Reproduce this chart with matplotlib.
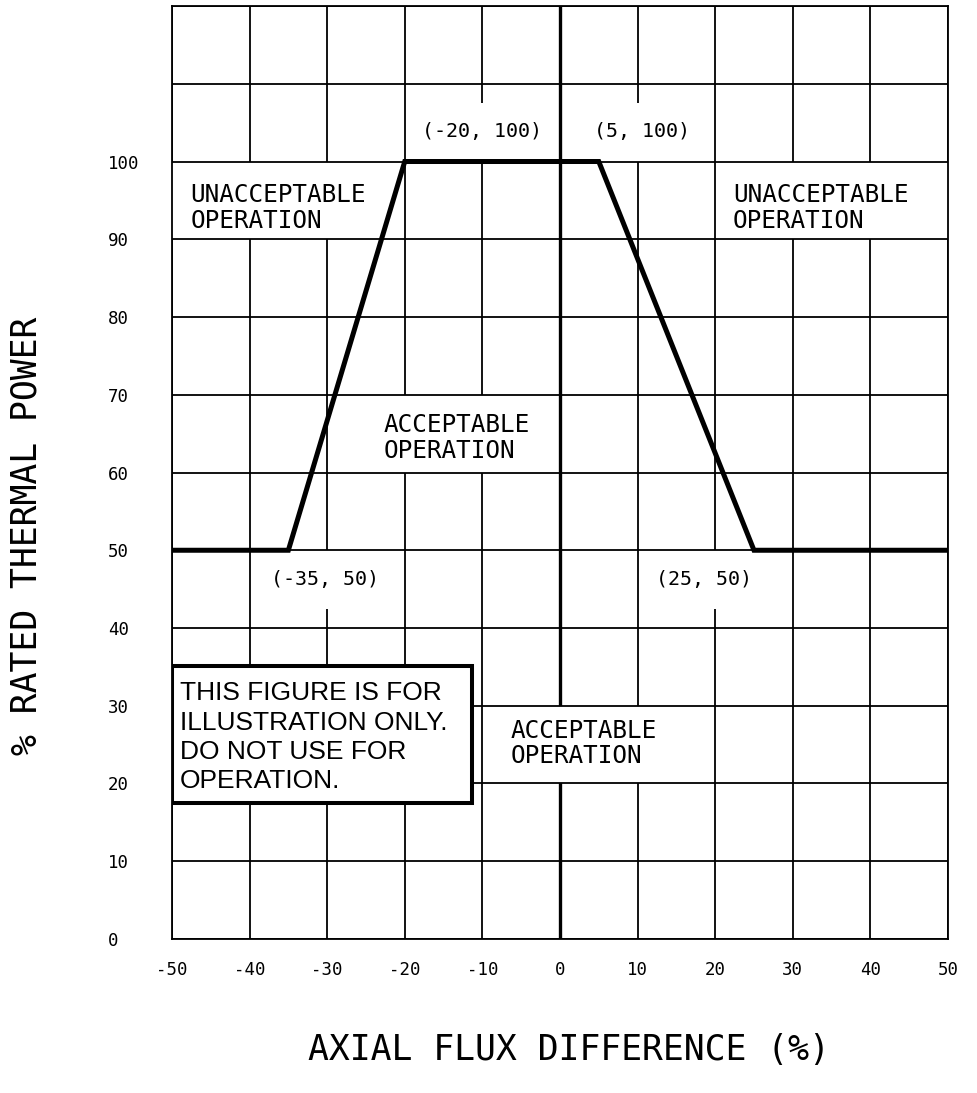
import matplotlib.pyplot as plt
from matplotlib.patches import Rectangle

plt.rcParams['axes.unicode_minus'] = False
plt.rcParams['font.family'] = 'DejaVu Sans Mono'

# limit curve: axial flux difference (%) vs rated thermal power (%)
afd = [-50, -35, -20, 5, 25, 50]
power = [50, 50, 100, 100, 50, 50]

x_ticks = [-50, -40, -30, -20, -10, 0, 10, 20, 30, 40, 50]
y_ticks = [0, 10, 20, 30, 40, 50, 60, 70, 80, 90, 100]
y_grid = [0, 10, 20, 30, 40, 50, 60, 70, 80, 90, 100, 110, 120]

corner_labels = ['(-20, 100)', '(5, 100)', '(-35, 50)', '(25, 50)']
corner_xy = [(-10.0, 103.8), (10.6, 103.8), (-30.3, 46.3), (18.6, 46.3)]

region_labels = ['UNACCEPTABLE\nOPERATION', 'UNACCEPTABLE\nOPERATION',
                 'ACCEPTABLE\nOPERATION', 'ACCEPTABLE\nOPERATION']
# position = left end of the text, baseline of its last line
region_xy = [(-47.6, 91.5), (22.3, 91.5), (-22.7, 61.9), (-6.4, 22.6)]

# white areas behind the labels, the vertical grid lines stop there
masks = [(-50, 90, -21.5, 100), (21, 90, 50, 100), (-24, 60, -0.7, 70),
         (-8.5, 20, 18.5, 30), (-19, 100, -4, 107.5), (4, 100, 17, 107.5),
         (-37, 42.5, -23, 50), (12, 42.5, 25, 50)]

note = 'THIS FIGURE IS FOR\nILLUSTRATION ONLY.\nDO NOT USE FOR\nOPERATION.'

fig = plt.figure(figsize=(9.77, 10.93), dpi=100)
ax = fig.add_axes([0.176, 0.1409, 0.7943, 0.8536])
ax.set_xlim(-50, 50)
ax.set_ylim(0, 120)

for x in x_ticks:
    if x == 0:
        ax.axvline(x, color='black', lw=2.4, zorder=1.2)
    else:
        ax.axvline(x, color='black', lw=1.3, zorder=1)
for y in y_grid:
    ax.axhline(y, color='black', lw=1.3, zorder=2)

for x0, y0, x1, y1 in masks:
    ax.add_patch(Rectangle((x0, y0), x1 - x0, y1 - y0, facecolor='white',
                           edgecolor='none', zorder=1.5))

ax.plot(afd, power, color='black', lw=3.6, zorder=3, solid_joinstyle='miter')

for s in ax.spines.values():
    s.set_linewidth(1.3)

for txt, (x, y) in zip(corner_labels, corner_xy):
    ax.text(x, y, txt, ha='center', va='center', fontsize=14.4, zorder=4)

for txt, (x, y) in zip(region_labels, region_xy):
    ax.text(x, y, txt, ha='left', va='baseline', fontsize=17.6,
            linespacing=1.08, zorder=4)

ax.add_patch(Rectangle((-50, 17.5), 38.7, 17.6, facecolor='white',
                       edgecolor='black', lw=2.9, zorder=4))
ax.text(-49.0, 19.4, note, ha='left', va='baseline', family='Liberation Sans',
        fontsize=19, linespacing=1.28, zorder=5)

ax.set_xticks(x_ticks)
ax.set_yticks(y_ticks)
ax.tick_params(length=0, labelsize=12.5)
ax.tick_params(axis='y', pad=46)
ax.tick_params(axis='x', pad=16)
for lab in ax.get_yticklabels():
    lab.set_horizontalalignment('left')

ax.set_xlabel('AXIAL FLUX DIFFERENCE (%)', fontsize=25, va='center')
ax.xaxis.set_label_coords(0.512, -0.119)
ax.set_ylabel('% RATED THERMAL POWER', fontsize=25, va='center')
ax.yaxis.set_label_coords(-0.187, 0.432)

fig.savefig('out.png', dpi=100)
